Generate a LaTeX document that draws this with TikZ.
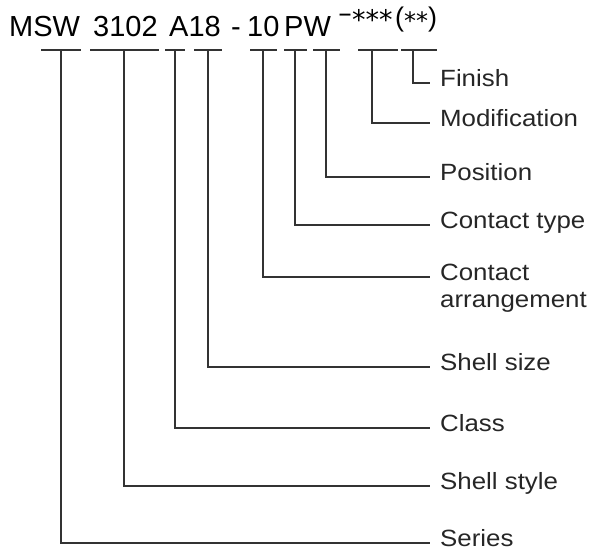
\documentclass[tikz,border=0pt]{standalone}
\usepackage{fontspec}
\setmainfont{Liberation Sans}
\newfontfamily\pnlabelfont{Liberation Sans}[FakeStretch=1.1]
\newfontfamily\pnstarfont{DejaVu Sans}
\usetikzlibrary{positioning}

\newcommand{\pnbar}[4]{%
  % Code bar under the part number: #1=x1, #2=x2, #3=tick x, #4=tick name
  \draw[pnline] (#1,50) -- (#2,50);
  \coordinate (#4) at (#3,50);%
}
\newcommand{\pnparen}[1]{{\rmfamily\fontsize{27}{30}\selectfont#1}}

\begin{document}
\begin{tikzpicture}[x=1pt, y=-1pt,
  pnline/.style={line width=1.2pt, black!80},
  pnpart/.style={font=\fontsize{29}{35}\selectfont, anchor=base west, inner sep=0pt},
  pntail/.style={font=\pnstarfont\fontsize{27}{30}\selectfont, anchor=base west, inner sep=0pt},
  pnlabel/.style={font=\pnlabelfont\fontsize{23.5}{28}\selectfont, anchor=west,
    inner xsep=10pt, inner ysep=0pt, text height=0.72em, text depth=0pt, text=black!85}]

\useasboundingbox (0,0) rectangle (596,558);

% ================================================================
% Part number (top line), baseline y=36
% ================================================================
\node[pnpart] (msw)   at (9,36)   {MSW};
\node[pnpart] (style) at (93,36)  {3102};
\node[pnpart] (size)  at (169,36) {A18};
\node[pnpart] (sep)   at (231,36) {-};
\node[pnpart] (arr)   at (247,36) {10};
\node[pnpart] (pw)    at (284,36) {PW};
\node[pntail, anchor=base] (dash) at (345,22) {–};
\node[pntail] (mod)   at (352,29) {***};
\node[pntail] (fin)   at (395,26)
  {\pnparen{(}\raisebox{-3pt}{\fontsize{24}{28}\selectfont**}\pnparen{)}};

% ================================================================
% Code bars with their tick points
% ================================================================
\pnbar{41}{81}{61}{tSeries}
\pnbar{90}{159}{124}{tStyle}
\pnbar{165}{185}{175}{tClass}
\pnbar{194}{222}{208}{tSize}
\pnbar{250}{277}{263}{tArr}
\pnbar{284}{307}{295}{tType}
\pnbar{313}{340}{326}{tPos}
\pnbar{358}{398}{372}{tMod}
\pnbar{401}{437}{413}{tFin}

% ================================================================
% Labels (right column)
% ================================================================
\node[pnlabel] (finish)  at (430,83)  {Finish};
\node[pnlabel] (modif)   at (430,123) {Modification};
\node[pnlabel] (posn)    at (430,177) {Position};
\node[pnlabel] (ctype)   at (430,225) {Contact type};
\node[pnlabel] (carr)    at (430,277) {Contact};
\node[pnlabel, anchor=base west] (carrb) at ([yshift=-27pt]carr.base west) {arrangement};
\node[pnlabel] (shsize)  at (430,367) {Shell size};
\node[pnlabel] (class)   at (430,428) {Class};
\node[pnlabel] (shstyle) at (430,486) {Shell style};
\node[pnlabel] (series)  at (430,543) {Series};

% ================================================================
% Leaders from ticks to labels
% ================================================================
\draw[pnline] (tFin)    |- (finish.west);
\draw[pnline] (tMod)    |- (modif.west);
\draw[pnline] (tPos)    |- (posn.west);
\draw[pnline] (tType)   |- (ctype.west);
\draw[pnline] (tArr)    |- (carr.west);
\draw[pnline] (tSize)   |- (shsize.west);
\draw[pnline] (tClass)  |- (class.west);
\draw[pnline] (tStyle)  |- (shstyle.west);
\draw[pnline] (tSeries) |- (series.west);

\end{tikzpicture}
\end{document}
